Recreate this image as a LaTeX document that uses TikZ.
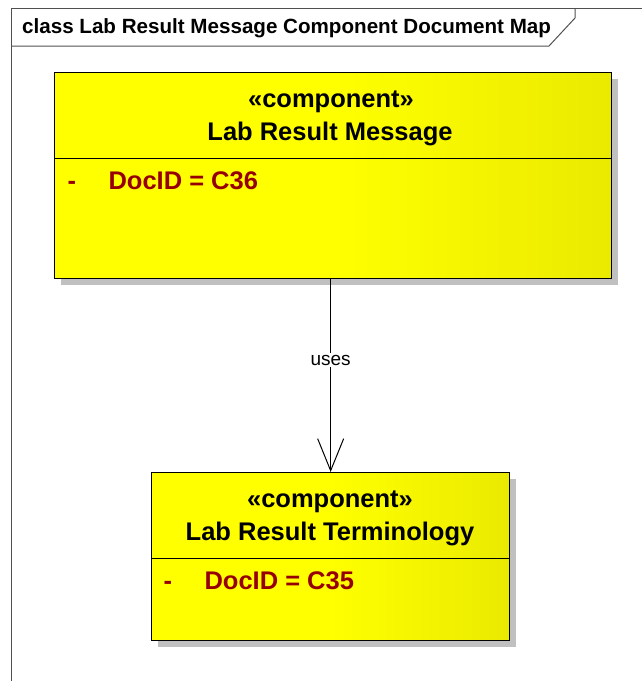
\documentclass[tikz,border=0pt]{standalone}
\usepackage{fontspec}
\setmainfont{Liberation Sans}
\usetikzlibrary{arrows.meta,shadows}
\definecolor{compyellow}{RGB}{255,255,0}
\definecolor{compshade}{RGB}{234,234,0}
\definecolor{attrred}{RGB}{150,0,0}
\definecolor{framegray}{RGB}{80,80,80}
\definecolor{shadowgray}{RGB}{192,192,192}
\begin{document}
\begin{tikzpicture}[x=1pt,y=-1pt,
  frame/.style={draw=framegray,line width=1pt},
  comp/.style={draw=black,line width=1.3pt,inner sep=0pt,anchor=north west,
    left color=compyellow,right color=compshade,middle color=compyellow,
    drop shadow={shadow xshift=6pt,shadow yshift=-6pt,fill=shadowgray,opacity=1}},
  compname/.style={anchor=base,font=\fontsize{25.5}{30}\selectfont\bfseries},
  attr/.style={anchor=base west,text=attrred,font=\fontsize{25.5}{30}\selectfont\bfseries},
  uses/.style={draw=black,line width=1pt,-{Straight Barb[length=32pt,width=26pt,line width=1pt]}}]
\useasboundingbox (0,0) rectangle (642,681);
\draw[frame] (11,681) -- (11,8) -- (642,8);
\draw[frame] (11,46) -- (549,46) -- (575,18) -- (575,8);
\node[anchor=base west,inner sep=0pt,font=\fontsize{20.6}{24}\selectfont\bfseries] (maptitle) at (22,33) {class Lab Result Message Component Document Map};

\node[comp,minimum width=557pt,minimum height=206pt] (msg) at (54,72) {};
\coordinate (msgdiv) at (54,158);
\draw[line width=1pt] (msgdiv) -- (msg.east |- msgdiv);
\node[compname] (msgstereo) at (331,107) {«component»};
\node[compname] (msgname) at (330,140) {Lab Result Message};
\node[attr] (msgvis) at (64,189) {-};
\node[attr] (msgdoc) at (105,189) {DocID = C36};

\node[comp,minimum width=358pt,minimum height=168pt] (term) at (151,472) {};
\coordinate (termdiv) at (151,558);
\draw[line width=1pt] (termdiv) -- (term.east |- termdiv);
\node[compname] (termstereo) at (330,507) {«component»};
\node[compname] (termname) at (330,540) {Lab Result Terminology};
\node[attr] (termvis) at (160,589) {-};
\node[attr] (termdoc) at (201,589) {DocID = C35};

\draw[uses] (term.north |- msg.south) -- node[pos=0.42,fill=white,inner sep=2pt,font=\fontsize{19}{22}\selectfont] (useslbl) {uses} (term.north);
\end{tikzpicture}
\end{document}
